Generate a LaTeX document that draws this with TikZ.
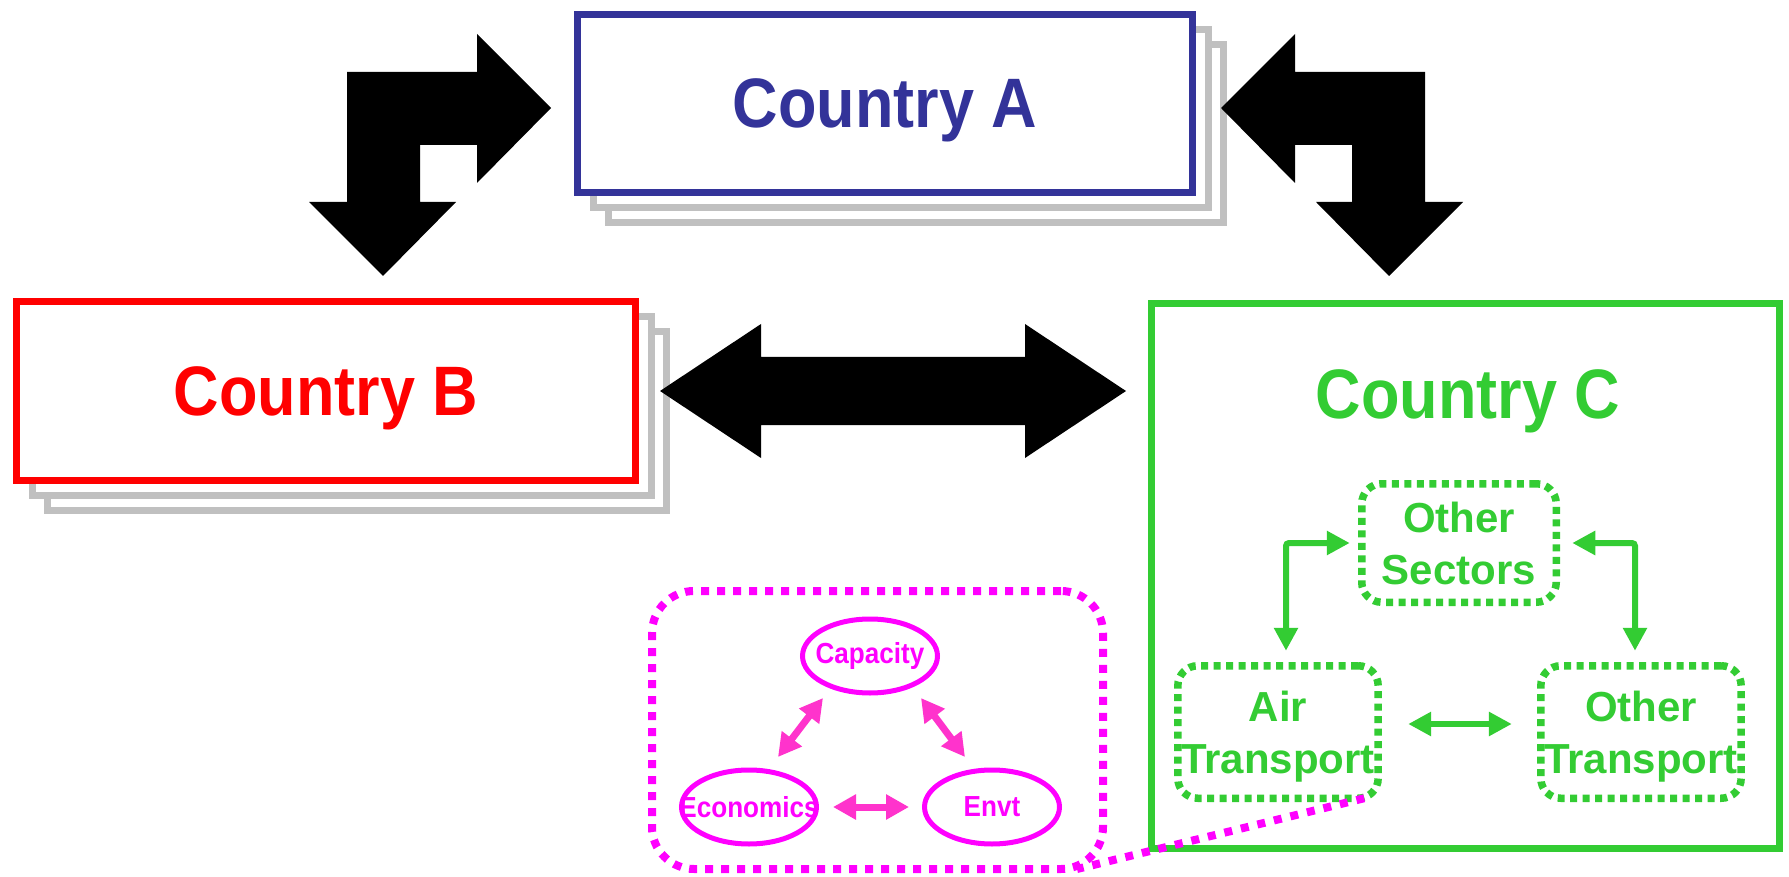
\documentclass[tikz,border=0pt]{standalone}
\usepackage{fontspec}
\setmainfont{Liberation Sans}
\newfontfamily\narrowfont[FakeStretch=0.9]{Liberation Sans}
\usetikzlibrary{arrows.meta, positioning, shapes.geometric, backgrounds}

\definecolor{ablue}{RGB}{51,51,153}
\definecolor{bred}{RGB}{255,0,0}
\definecolor{cgreen}{RGB}{51,204,51}
\definecolor{mag}{RGB}{255,0,255}
\definecolor{pinkarr}{RGB}{255,51,204}
\definecolor{shadowgray}{RGB}{192,192,192}

\begin{document}
\begin{tikzpicture}[x=1pt, y=-1pt,
    every node/.style={align=center},
    ctext/.style={text=#1, font=\narrowfont\bfseries\fontsize{70}{80}\selectfont, text depth=0pt},
    country/.style={rectangle, draw=#1, line width=7pt, fill=white, outer sep=0pt, ctext=#1},
    shadowbox/.style={draw=shadowgray, line width=7pt, fill=white},
    sector/.style={rectangle, rounded corners=20pt, draw=cgreen, line width=7.5pt,
                   dash pattern=on 7pt off 5.5pt, outer sep=0pt, minimum width=194.5pt,
                   text=cgreen, font=\bfseries\fontsize{42}{52}\selectfont, text depth=0pt},
    magbox/.style={rectangle, rounded corners=42pt, draw=mag, line width=8pt,
                   dash pattern=on 8pt off 8pt, outer sep=0pt},
    pell/.style={ellipse, draw=mag, line width=5pt, minimum width=135pt, minimum height=74pt,
                 inner sep=0pt, text=mag, font=\narrowfont\bfseries\fontsize{29}{32}\selectfont},
    garr/.style={draw=cgreen, line width=6pt, rounded corners=3pt,
                 {Triangle[width=23pt,length=23pt]}-{Triangle[width=23pt,length=23pt]}},
    parr/.style={draw=pinkarr, line width=7pt,
                 {Triangle[width=24pt,length=23pt]}-{Triangle[width=24pt,length=23pt]}},
    mdot/.style={draw=mag, line width=8pt, dash pattern=on 8pt off 9pt},
    blockarr/.style={fill=black}
  ]
    \useasboundingbox (0,0) rectangle (1789,877);

    % countries
    \node[country=ablue, minimum width=615pt, minimum height=178pt] (ca) at (885,103.5) {Country A};
    \node[country=bred, minimum width=619pt, minimum height=179pt] (cb) at (326,391) {Country B};
    \node[country=cgreen, minimum width=628pt, minimum height=545pt] (cc) at (1465.5,576) {};
    \node[ctext=cgreen] (labc) at (1468,394) {Country C};

    % stacked copies behind A and B
    \begin{scope}[on background layer]
      \foreach \n in {ca,cb} {
        \draw[shadowbox] ([shift={(31,30)}]\n.north west) rectangle ([shift={(31,30)}]\n.south east);
        \draw[shadowbox] ([shift={(16,15)}]\n.north west) rectangle ([shift={(16,15)}]\n.south east);
      }
    \end{scope}

    % block arrows
    \fill[blockarr] (551,108) -- (477,183) -- (477,145) -- (420,145) -- (420,202) -- (456,202)
      -- (383,276) -- (309,202) -- (347,202) -- (347,72) -- (477,72) -- (477,34) -- cycle;
    \fill[blockarr] (1221,108) -- (1295,183) -- (1295,145) -- (1352,145) -- (1352,202) -- (1316,202)
      -- (1389,276) -- (1463,202) -- (1425,202) -- (1425,72) -- (1295,72) -- (1295,34) -- cycle;
    \fill[blockarr] (660,391) -- (761,324) -- (761,357) -- (1025,357) -- (1025,324) -- (1126,391)
      -- (1025,458) -- (1025,425) -- (761,425) -- (761,458) -- cycle;

    % sectors inside C
    \node[sector, minimum height=118.5pt] (sec) at (1459,543) {Other\\Sectors};
    \node[sector, minimum height=132.5pt] (air) at (1278,732) {Air\\Transport};
    \node[sector, minimum height=132.5pt, minimum width=192.5pt] (ot) at (1641,732) {Other\\Transport};
    \draw[garr, shorten <=15pt, shorten >=12pt] ([xshift=8pt]air.north) |- (sec.west);
    \draw[garr, shorten <=15pt, shorten >=16pt] ([xshift=-6pt]ot.north) |- (sec.east);
    \draw[garr, shorten <=30pt, shorten >=29pt] ([yshift=8pt]air.east) -- ([yshift=8pt]ot.west);

    % air transport detail
    \node[magbox, minimum width=451pt, minimum height=278pt] (mag) at (877.5,730) {};
    \node[pell] (cap) at (870,656) {\makebox[0pt]{Capacity}};
    \node[pell] (eco) at (749,807) {\makebox[0pt]{Economics}};
    \node[pell] (env) at (992,807) {\makebox[0pt]{Envt}};
    \draw[parr] ([shift={(-47,42)}]cap.center) -- ([shift={(29,-50)}]eco.center);
    \draw[parr] ([shift={(51,42)}]cap.center) -- ([shift={(-27,-50)}]env.center);
    \draw[parr, shorten <=14pt, shorten >=13pt] (eco.east) -- (env.west);
    \draw[mdot] ([xshift=-14pt]air.south east) -- ([xshift=-26pt]mag.south east);
  \end{tikzpicture}
\end{document}
